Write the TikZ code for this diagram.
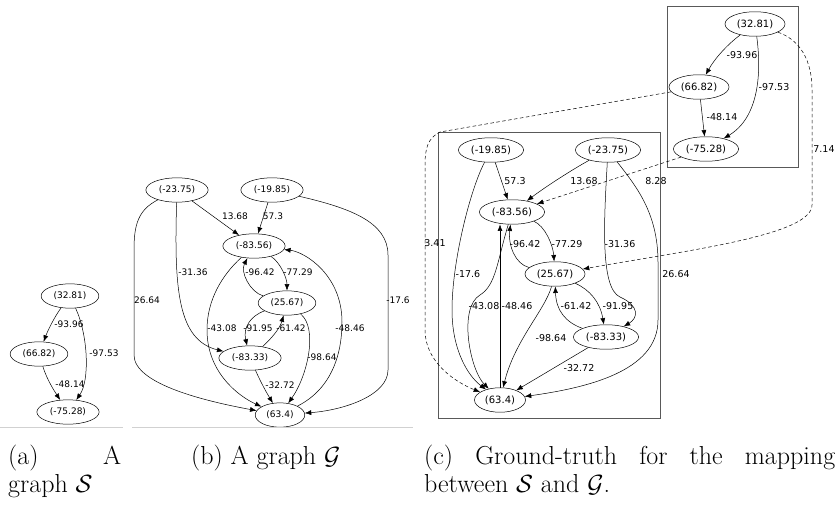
\documentclass[tikz,border=0pt]{standalone}
\usepackage{fontspec}
\newfontfamily\gvfont{DejaVu Sans}
\usepackage{tikz}
\usetikzlibrary{shapes.geometric}
\usetikzlibrary{arrows.meta}

\tikzset{
  vert/.style={draw, ellipse, line width=0.5pt, inner xsep=4pt, inner ysep=4.6pt,
    font=\gvfont\fontsize{9}{10}\selectfont},
  vertc/.style={vert, inner xsep=3pt, inner ysep=4.2pt, font=\gvfont\fontsize{10}{11}\selectfont},
  wlab/.style={inner sep=0pt, font=\gvfont\fontsize{9}{10}\selectfont},
  wlabc/.style={wlab, font=\gvfont\fontsize{9.5}{11}\selectfont},
  arc/.style={draw, line width=0.5pt, -{Latex[length=6.5pt,width=5pt]}},
  match/.style={arc, dash pattern=on 3.5pt off 2.5pt},
  frame/.style={draw=black!65, line width=0.8pt},
  rule/.style={draw=black!18, line width=0.8pt},
  capt/.style={anchor=base west, inner sep=0pt, font=\fontsize{26}{29}\selectfont}
}

\begin{document}
\begin{tikzpicture}[x=1pt,y=-1pt]
    \useasboundingbox (0,0) rectangle (836,506);

        % (a) graph S
        \node[vert] (sA) at (70,296) {(32.81)};
        \node[vert] (sB) at (39,354) {(66.82)};
        \node[vert] (sC) at (68,412) {(-75.28)};

        \draw[arc] (sA) .. controls (55,316) and (48,330) .. (sB);
        \draw[arc] (sA) .. controls (88,335) and (90,380) .. (sC);
        \draw[arc] (sB) .. controls (47,380) and (55,392) .. (sC);

        \node[wlab] (wa1) at (69,324) {-93.96};
        \node[wlab] (wa2) at (104,353) {-97.53};
        \node[wlab] (wa3) at (70,384) {-48.14};

        % (b) graph G
        \node[vert] (gA) at (177,190) {(-23.75)};
        \node[vert] (gB) at (272,190) {(-19.85)};
        \node[vert] (gC) at (254,246) {(-83.56)};
        \node[vert] (gD) at (287,303) {(25.67)};
        \node[vert] (gE) at (250,358) {(-83.33)};
        \node[vert] (gF) at (280,415) {(63.4)};

        \draw[arc] (gA) -- (gC);
        \draw[arc] (gB) -- (gC);
        \draw[arc] (gA) .. controls (174,290) and (178,340) .. (gE);
        \draw[arc] (gA) .. controls (138,210) and (134,225) .. (134,250) -- (134,355)
                   .. controls (134,385) and (210,402) .. (gF);
        \draw[arc] (gB) .. controls (350,208) and (388,222) .. (388,255) -- (388,370)
                   .. controls (388,395) and (345,410) .. (gF);
        \draw[arc] (gC) .. controls (280,262) and (287,278) .. (gD);
        \draw[arc] (gD) .. controls (250,292) and (240,272) .. (gC);
        \draw[arc] (gD) .. controls (250,316) and (243,328) .. (gE);
        \draw[arc] (gE) .. controls (272,338) and (280,328) .. (gD);
        \draw[arc] (gD) .. controls (318,328) and (308,375) .. (gF);
        \draw[arc] (gE) .. controls (262,385) and (268,395) .. (gF);
        \draw[arc] (gC) .. controls (222,275) and (207,300) .. (207,330)
                   .. controls (207,372) and (238,396) .. (gF);
        \draw[arc] (gF) .. controls (333,388) and (342,352) .. (342,322)
                   .. controls (342,275) and (305,252) .. (gC);

        \node[wlab] (wb1) at (235,216) {13.68};
        \node[wlab] (wb2) at (273,216) {57.3};
        \node[wlab] (wb3) at (193,272) {-31.36};
        \node[wlab] (wb4) at (147,300) {26.64};
        \node[wlab] (wb5) at (260,272) {-96.42};
        \node[wlab] (wb6) at (298,272) {-77.29};
        \node[wlab] (wb7) at (398,300) {-17.6};
        \node[wlab] (wb8) at (222,328) {-43.08};
        \node[wlab] (wb9) at (258,328) {-91.95};
        \node[wlab] (wb10) at (291,328) {-61.42};
        \node[wlab] (wb11) at (350,328) {-48.46};
        \node[wlab] (wb12) at (322,357) {-98.64};
        \node[wlab] (wb13) at (280,385) {-32.72};

        % rules under (a) and (b)
        \draw[rule] (0,427) -- (123,427);
        \draw[rule] (132,427) -- (413,427);

        % (c) ground-truth mapping
        \draw[frame] (667,6) rectangle (798,167);
        \draw[frame] (438,132) rectangle (660,418);

        \node[vertc] (cA) at (755,24) {(32.81)};
        \node[vertc] (cB) at (699,87) {(66.82)};
        \node[vertc] (cC) at (706,149) {(-75.28)};
        \node[vertc] (cD) at (491,150) {(-19.85)};
        \node[vertc] (cE) at (608,150) {(-23.75)};
        \node[vertc] (cF) at (512,212) {(-83.56)};
        \node[vertc] (cG) at (555,274) {(25.67)};
        \node[vertc] (cH) at (606,337) {(-83.33)};
        \node[vertc] (cI) at (500,400) {(63.4)};

        \draw[arc] (cA) .. controls (728,44) and (715,58) .. (cB);
        \draw[arc] (cA) .. controls (762,75) and (758,118) .. (cC);
        \draw[arc] (cB) -- (cC);

        \draw[match] (cC) -- (cF);
        \draw[match] (cA) .. controls (800,40) and (812,60) .. (812,90) -- (812,205)
                     .. controls (812,235) and (690,250) .. (cG);
        \draw[match] (cB) -- (440,132) .. controls (428,138) and (425,148) .. (425,165)
                     -- (425,330) .. controls (425,362) and (455,382) .. (cI);

        \draw[arc] (cD) -- (cF);
        \draw[arc] (cE) .. controls (575,168) and (548,185) .. (cF);
        \draw[arc] (cE) .. controls (604,220) and (600,288) .. (620,297)
                   .. controls (640,306) and (638,318) .. (cH);
        \draw[arc] (cE) .. controls (635,185) and (658,212) .. (658,262) -- (658,320)
                   .. controls (658,372) and (585,388) .. (cI);
        \draw[arc] (cF) .. controls (545,226) and (553,245) .. (cG);
        \draw[arc] (cG) .. controls (515,264) and (508,245) .. (cF);
        \draw[arc] (cI.north) -- (cI.north |- cF.south);
        \draw[arc] (cF) .. controls (497,262) and (496,285) .. (480,295)
                   .. controls (458,308) and (470,370) .. (cI);
        \draw[arc] (cD) .. controls (470,190) and (452,262) .. (452,310)
                   .. controls (452,350) and (468,376) .. (cI);
        \draw[arc] (cG) .. controls (590,290) and (600,302) .. (cH);
        \draw[arc] (cH) .. controls (565,322) and (556,310) .. (cG);
        \draw[arc] (cG) .. controls (545,310) and (515,340) .. (cI);
        \draw[arc] (cH) -- (cI);

        \node[wlabc] (wc1) at (742,55) {-93.96};
        \node[wlabc] (wc2) at (774,87) {-97.53};
        \node[wlabc] (wc3) at (722,117) {-48.14};
        \node[wlabc] (wc4) at (515,181) {57.3};
        \node[wlabc] (wc5) at (584,181) {13.68};
        \node[wlabc] (wc6) at (656,181) {8.28};
        \node[wlabc] (wc7) at (824,149) {7.14};
        \node[wlabc] (wc8) at (435,243) {3.41};
        \node[wlabc] (wc9) at (525,244) {-96.42};
        \node[wlabc] (wc10) at (567,244) {-77.29};
        \node[wlabc] (wc11) at (620,244) {-31.36};
        \node[wlabc] (wc12) at (468,274) {-17.6};
        \node[wlabc] (wc13) at (676,274) {26.64};
        \node[wlabc] (wc14) at (484,306) {-43.08};
        \node[wlabc] (wc15) at (517,306) {-48.46};
        \node[wlabc] (wc16) at (576,306) {-61.42};
        \node[wlabc] (wc17) at (618,306) {-91.95};
        \node[wlabc] (wc18) at (551,338) {-98.64};
        \node[wlabc] (wc19) at (579,368) {-32.72};

        % captions
        \node[capt] (capa1) at (8,464) {\makebox[113pt][s]{(a) A}};
        \node[capt] (capa2) at (8,492) {graph $\mathcal{S}$};
        \node[capt] (capb) at (191,464) {(b) A graph $\mathcal{G}$};
        \node[capt] (capc1) at (424,464) {\makebox[411pt][s]{(c) Ground-truth for the mapping}};
        \node[capt] (capc2) at (424,492) {between $\mathcal{S}$ and $\mathcal{G}$.};
      \end{tikzpicture}
\end{document}
